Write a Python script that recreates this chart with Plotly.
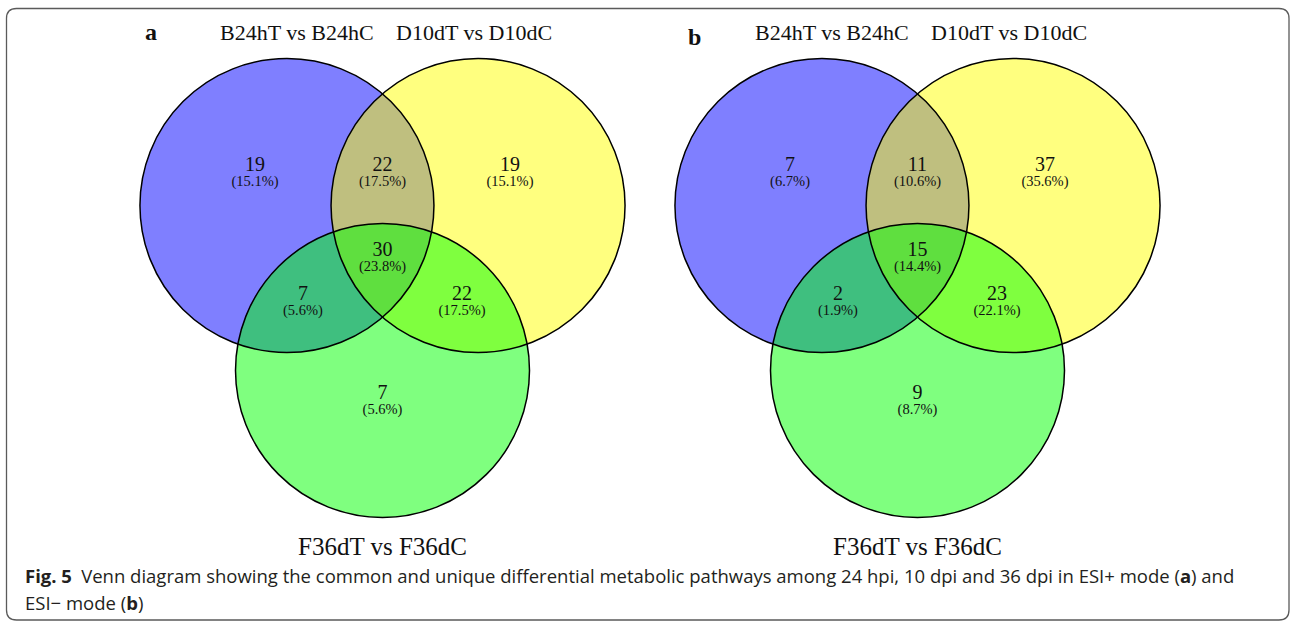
import plotly.graph_objects as go

# ---------------- data ----------------
regions = ["B24hT only", "B24hT & D10dT", "D10dT only", "all three",
           "B24hT & F36dT", "D10dT & F36dT", "F36dT only"]
counts_a = [19, 22, 19, 30, 7, 22, 7]      # ESI+ mode
counts_b = [7, 11, 37, 15, 2, 23, 9]       # ESI- mode
set_labels = ["B24hT vs B24hC", "D10dT vs D10dC", "F36dT vs F36dC"]
panel_letters = ["a", "b"]
caption_line1 = ("<b>Fig. 5</b>\u2002Venn diagram showing the common and unique differential metabolic "
                 "pathways among 24 hpi, 10 dpi and 36 dpi in ESI+ mode (<b>a</b>) and")
caption_line2 = "ESI\u2212 mode (<b>b</b>)"

# ---------------- layout geometry (Venn units, radius = 1) ----------------
W, H = 1292, 622
PX = 147.0                       # pixels per Venn unit
panel_cx = [382.5, 917.5]        # pixel centre of each panel
cy_px = 260.5
half_w = 260.0

circle_centers = [(-0.65, 0.374), (0.65, 0.374), (0.0, -0.748)]
circle_colors = ["rgb(0,0,255)", "rgb(255,255,0)", "rgb(0,255,0)"]
radius = 1.0

lab_x = [-0.867, 0.0, 0.867, 0.0, -0.541, 0.541, 0.0]
lab_y = [0.643, 0.643, 0.643, 0.065, -0.235, -0.235, -0.910]
pct_dy = 0.109

fig = go.Figure()
shapes = []
annotations = []

y_top = cy_px / PX
y_bot = -(H - cy_px) / PX

letter_pos = [(-1.575, 1.554), (-1.514, 1.522)]

for p, counts in enumerate([counts_a, counts_b]):
    xa = "x" if p == 0 else "x2"
    ya = "y" if p == 0 else "y2"
    total = sum(counts)
    # fills
    for (cx, cy), col in zip(circle_centers, circle_colors):
        shapes.append(dict(type="circle", xref=xa, yref=ya,
                           x0=cx - radius, x1=cx + radius, y0=cy - radius, y1=cy + radius,
                           fillcolor=col, opacity=0.5, line=dict(width=0), layer="below"))
    # outlines
    for (cx, cy) in circle_centers:
        shapes.append(dict(type="circle", xref=xa, yref=ya,
                           x0=cx - radius, x1=cx + radius, y0=cy - radius, y1=cy + radius,
                           fillcolor="rgba(0,0,0,0)", line=dict(color="black", width=1.5),
                           layer="below"))
    fig.add_trace(go.Scatter(
        x=lab_x, y=lab_y, mode="text", text=[str(c) for c in counts],
        textfont=dict(family="Liberation Serif", size=20, color="#111111"),
        xaxis=xa, yaxis=ya, hoverinfo="skip", showlegend=False))
    fig.add_trace(go.Scatter(
        x=lab_x, y=[v - pct_dy for v in lab_y], mode="text",
        text=[f"({c / total * 100:.1f}%)" for c in counts],
        textfont=dict(family="Liberation Serif", size=14.5, color="#111111"),
        xaxis=xa, yaxis=ya, hoverinfo="skip", showlegend=False))
    # set labels
    for txt, (x, y), size in zip(set_labels, [(-0.58, 1.548), (0.624, 1.548), (0.0, -1.948)],
                                 [22, 22, 25]):
        annotations.append(dict(text=txt, x=x, y=y, xref=xa, yref=ya, showarrow=False,
                                xanchor="center", yanchor="middle",
                                font=dict(family="Liberation Serif", size=size, color="#111111")))
    lx, ly = letter_pos[p]
    annotations.append(dict(text=f"<b>{panel_letters[p]}</b>", x=lx, y=ly, xref=xa, yref=ya,
                            showarrow=False, xanchor="center", yanchor="middle",
                            font=dict(family="Liberation Serif", size=24, color="#111111")))

# caption
annotations.append(dict(text=caption_line1, x=23 / W, y=1 - 575 / H, xref="paper", yref="paper",
                        xanchor="left", yanchor="middle", showarrow=False,
                        font=dict(family="Open Sans", size=18.5, color="#231f20")))
annotations.append(dict(text=caption_line2, x=23 / W, y=1 - 602 / H, xref="paper", yref="paper",
                        xanchor="left", yanchor="middle", showarrow=False,
                        font=dict(family="Open Sans", size=18.5, color="#231f20")))

# rounded border
x0, y0, x1, y1, r = 6.5, 8.5, 1289.0, 620.0, 10.0
def P(px, py):
    return f"{px / W:.6f},{1 - py / H:.6f}"
path = (f"M {P(x0 + r, y0)} L {P(x1 - r, y0)} Q {P(x1, y0)} {P(x1, y0 + r)} "
        f"L {P(x1, y1 - r)} Q {P(x1, y1)} {P(x1 - r, y1)} "
        f"L {P(x0 + r, y1)} Q {P(x0, y1)} {P(x0, y1 - r)} "
        f"L {P(x0, y0 + r)} Q {P(x0, y0)} {P(x0 + r, y0)} Z")
shapes.append(dict(type="path", xref="paper", yref="paper", path=path,
                   line=dict(color="#5a5a5a", width=1.3), fillcolor="rgba(0,0,0,0)", layer="above"))

hw = half_w / PX
fig.update_layout(
    width=W, height=H, margin=dict(l=0, r=0, t=0, b=0),
    paper_bgcolor="white", plot_bgcolor="rgba(0,0,0,0)",
    xaxis=dict(domain=[(panel_cx[0] - half_w) / W, (panel_cx[0] + half_w) / W],
               range=[-hw, hw], visible=False, anchor="y"),
    yaxis=dict(domain=[0, 1], range=[y_bot, y_top], visible=False, anchor="x"),
    xaxis2=dict(domain=[(panel_cx[1] - half_w) / W, (panel_cx[1] + half_w) / W],
                range=[-hw, hw], visible=False, anchor="y2"),
    yaxis2=dict(domain=[0, 1], range=[y_bot, y_top], visible=False, anchor="x2"),
    shapes=shapes, annotations=annotations, showlegend=False,
)

fig.write_html("out.html", config={"displayModeBar": False},
               post_script="document.body.style.margin='0';")
